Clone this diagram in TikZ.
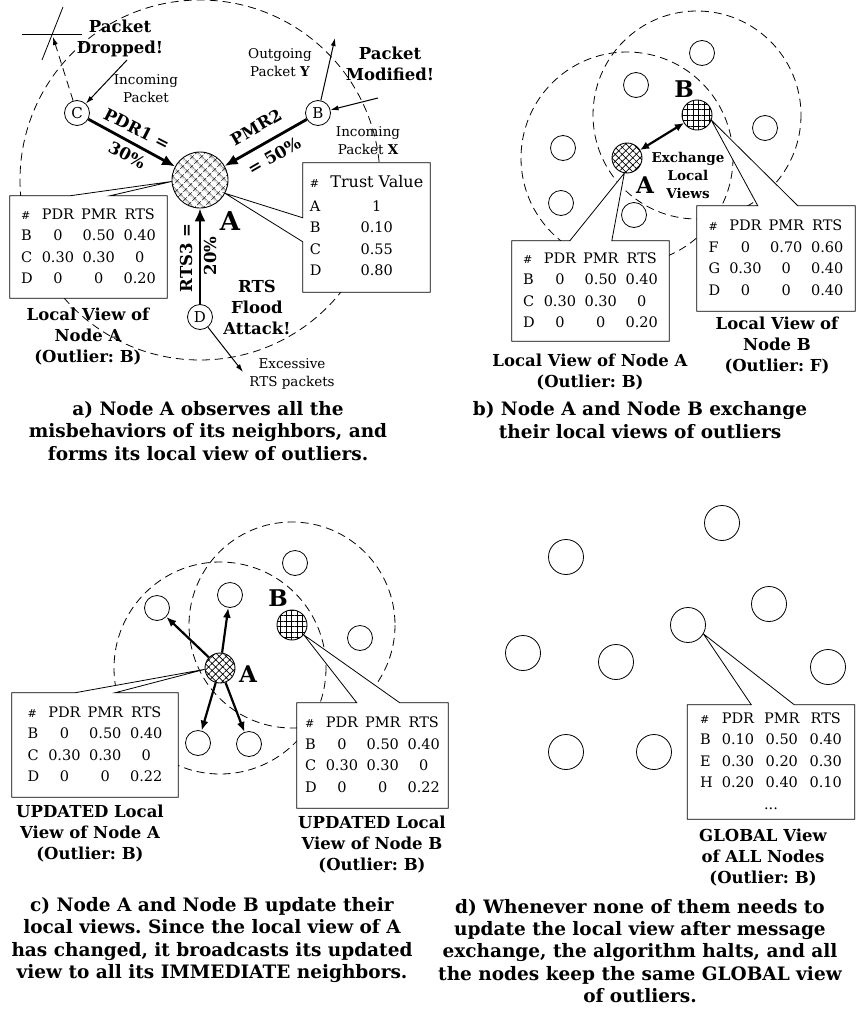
\documentclass[tikz,border=0pt]{standalone}
\usepackage{fontspec}
\setmainfont{DejaVu Serif}
\usetikzlibrary{arrows.meta,patterns.meta}

\pgfdeclarelayer{back}
\pgfdeclarelayer{mid}
\pgfsetlayers{back,mid,main}

\newcommand{\tabfont}{\fontsize{14.5}{21.5}\selectfont}
\newcommand{\hsh}{{\fontsize{11}{11}\selectfont\#}}
\frenchspacing

\begin{document}
\begin{tikzpicture}[
x=1pt, y=-1pt,
every node/.style={inner sep=0pt},
nb/.style={circle, draw, line width=0.8pt, fill=white, minimum size=25pt, font=\fontsize{15}{15}\selectfont},
hubx/.style={circle, draw, line width=0.9pt, pattern={Hatch[angle=45,distance=#1,line width=0.7pt]}},
hubg/.style={circle, draw, line width=0.9pt, pattern={Hatch[angle=0,distance=#1,line width=0.7pt]}},
rng/.style={dash pattern=on 8pt off 5pt, line width=0.8pt},
big/.style={line width=2.8pt, -{Latex[length=13pt,width=11pt]}},
bc/.style={line width=2.2pt, -{Latex[length=10pt,width=8pt]}},
sm/.style={line width=1pt, -{Latex[length=8pt,width=5pt]}},
call/.style={line width=0.8pt, fill=white},
tbl/.style={font=\tabfont},
lab/.style={font=\bfseries\fontsize{16.5}{21}\selectfont, align=center},
captxt/.style={font=\bfseries\fontsize{18.5}{22.3}\selectfont, align=center},
note/.style={font=\fontsize{13.5}{18}\selectfont, align=center},
ltr/.style={font=\bfseries\fontsize{#1}{#1}\selectfont}
]

\useasboundingbox (0,0) rectangle (856,1017);

% a) node A watches its neighbours
\node[hubx=6.5pt, minimum size=56pt] (A) at (200,180)
{};

\node[nb] (C) at (77,113)
{C};

\node[nb] (B) at (318,113)
{B};

\node[nb] (D) at (200,317)
{D};

\node[ltr=26] (Al) at (230,221)
{A};

\draw[big] (C) -- (A);
\draw[big] (B) -- (A);
\draw[big] (D) -- (A);

\node[lab, rotate=-27] (pdr) at (137,129) {PDR1 =};
\node[lab, rotate=-27] (pdrv) at (127,155) {30\%};
\node[lab, rotate=30] (pmr) at (256,127) {PMR2};
\node[lab, rotate=30] (pmrv) at (274,156) {= 50\%};
\node[lab, rotate=90] (rts) at (186,258) {RTS3 =};
\node[lab, rotate=90] (rtsv) at (210,256) {20\%};

\node[lab] (drop) at (120,38) {Packet\\Dropped!};
\node[lab] (modf) at (390,64) {Packet\\Modified!};
\node[lab] (flood) at (257,307) {RTS\\Flood\\Attack!};
\node[note] (inc) at (146,89) {Incoming\\Packet};
\node[note] (outy) at (280,63) {Outgoing\\Packet \textbf{Y}};
\node[note] (inx) at (368,141) {Incoming\\Packet \textbf{X}};
\node[note] (exc) at (292,374) {Excessive\\RTS packets};

\coordinate (lost) at (53,37);
\coordinate (srcC) at (127,60);
\coordinate (dstY) at (335,38);
\coordinate (srcX) at (378,98);
\coordinate (dstD) at (243,372);

\draw[sm, rng] (C) -- (lost);
\draw[line width=0.8pt] (22,34) -- (82,34);
\draw[line width=0.8pt] (63,7) -- (42,60);
\draw[sm] (srcC) -- (C);
\draw[sm] (B) -- (dstY);
\draw[sm] (srcX) -- (B);
\draw[sm] (D) -- (dstD);

\node[tbl, minimum width=157pt, minimum height=102pt] (tA) at (88.5,247)
{\begin{tabular}{@{}l@{\hspace{9pt}}c@{\hspace{7pt}}c@{\hspace{7pt}}c@{}}
\hsh & PDR & PMR & RTS\\
B & 0 & 0.50 & 0.40\\
C & 0.30 & 0.30 & 0\\
D & 0 & 0 & 0.20
\end{tabular}};

\node[tbl, minimum width=127pt, minimum height=129pt] (tT) at (366.5,227.5)
{\begin{tabular}{@{}l@{\hspace{9pt}}c@{}}
\hsh & {\fontsize{16}{16}\selectfont Trust Value}\\[2pt]
A & 1\\
B & 0.10\\
C & 0.55\\
D & 0.80
\end{tabular}};

\node[lab] (vA) at (88,337) {Local View of\\Node A\\(Outlier: B)};

% b) A and B swap views
\node[hubx=5pt, minimum size=30pt] (A2) at (627,158) {};
\node[hubg=5.5pt, minimum size=30pt] (B2) at (697,115) {};
\node[ltr=23] (A2l) at (645,185) {A};
\node[ltr=23] (B2l) at (684,89) {B};

\node[nb] (b1) at (702,53) {};
\node[nb] (b2) at (636,85) {};
\node[nb] (b3) at (765,128) {};
\node[nb] (b4) at (563,148) {};
\node[nb] (b5) at (561,203) {};
\node[nb] (b6) at (634,215) {};

\draw[line width=2.2pt, {Latex[length=9pt,width=8pt]}-{Latex[length=9pt,width=8pt]}] (A2) -- (B2);

\node[font=\bfseries\fontsize{13.5}{18}\selectfont, align=center] (exch) at (688,175) {Exchange\\Local\\Views};

\node[tbl, minimum width=157pt, minimum height=100pt] (tA2) at (590.5,291)
{\begin{tabular}{@{}l@{\hspace{9pt}}c@{\hspace{7pt}}c@{\hspace{7pt}}c@{}}
\hsh & PDR & PMR & RTS\\
B & 0 & 0.50 & 0.40\\
C & 0.30 & 0.30 & 0\\
D & 0 & 0 & 0.20
\end{tabular}};

\node[tbl, minimum width=158pt, minimum height=105pt] (tB2) at (776,258.5)
{\begin{tabular}{@{}l@{\hspace{9pt}}c@{\hspace{7pt}}c@{\hspace{7pt}}c@{}}
\hsh & PDR & PMR & RTS\\
F & 0 & 0.70 & 0.60\\
G & 0.30 & 0 & 0.40\\
D & 0 & 0 & 0.40
\end{tabular}};

\node[lab] (vA2) at (590,372) {Local View of Node A\\(Outlier: B)};
\node[lab] (vB2) at (777,346) {Local View of\\Node B\\(Outlier: F)};

% c) A passes its new view on
\node[hubx=5pt, minimum size=30pt] (A3) at (220,668) {};
\node[hubg=5.5pt, minimum size=30pt] (B3) at (292,625) {};
\node[ltr=23] (A3l) at (248,674) {A};
\node[ltr=23] (B3l) at (278,598) {B};

\node[nb] (c1) at (157,608) {};
\node[nb] (c2) at (230,595) {};
\node[nb] (c3) at (295,563) {};
\node[nb] (c4) at (360,638) {};
\node[nb] (c5) at (198,743) {};
\node[nb] (c6) at (249,744) {};

\draw[bc] (A3) -- (c1);
\draw[bc] (A3) -- (c2);
\draw[bc] (A3) -- (c5);
\draw[bc] (A3) -- (c6);

\node[tbl, minimum width=166pt, minimum height=104pt] (tA3) at (95,745)
{\begin{tabular}{@{}l@{\hspace{9pt}}c@{\hspace{7pt}}c@{\hspace{7pt}}c@{}}
\hsh & PDR & PMR & RTS\\
B & 0 & 0.50 & 0.40\\
C & 0.30 & 0.30 & 0\\
D & 0 & 0 & 0.22
\end{tabular}};

\node[tbl, minimum width=151pt, minimum height=105pt] (tB3) at (372.5,755.5)
{\begin{tabular}{@{}l@{\hspace{9pt}}c@{\hspace{7pt}}c@{\hspace{7pt}}c@{}}
\hsh & PDR & PMR & RTS\\
B & 0 & 0.50 & 0.40\\
C & 0.30 & 0.30 & 0\\
D & 0 & 0 & 0.22
\end{tabular}};

\node[lab] (vA3) at (90,834) {UPDATED Local\\View of Node A\\(Outlier: B)};
\node[lab] (vB3) at (372,845) {UPDATED Local\\View of Node B\\(Outlier: B)};

% d) every node ends with the same view
\node[nb, minimum size=35pt] (d1) at (722,523) {};
\node[nb, minimum size=35pt] (d2) at (566,557) {};
\node[nb, minimum size=35pt] (d3) at (769,604) {};
\node[nb, minimum size=35pt] (d4) at (688,625) {};
\node[nb, minimum size=35pt] (d5) at (523,653) {};
\node[nb, minimum size=35pt] (d6) at (616,662) {};
\node[nb, minimum size=35pt] (d7) at (828,667) {};
\node[nb, minimum size=35pt] (d8) at (566,752) {};
\node[nb, minimum size=35pt] (d9) at (654,752) {};

\node[tbl, minimum width=167pt, minimum height=114pt] (tD) at (771,762)
{\begin{tabular}{@{}l@{\hspace{9pt}}c@{\hspace{10pt}}c@{\hspace{10pt}}c@{}}
\hsh & PDR & PMR & RTS\\
B & 0.10 & 0.50 & 0.40\\
E & 0.30 & 0.20 & 0.30\\
H & 0.20 & 0.40 & 0.10\\
\multicolumn{4}{c}{...}
\end{tabular}};

\node[lab] (vD) at (763,858) {GLOBAL View\\of ALL Nodes\\(Outlier: B)};

% captions
\node[captxt] (capa) at (208,431) {a) Node A observes all the\\misbehaviors of its neighbors, and\\forms its local view of outliers.};
\node[captxt] (capb) at (640,420) {b) Node A and Node B exchange\\their local views of outliers};
\node[captxt] (capc) at (212,940) {c) Node A and Node B update their\\local views. Since the local view of A\\has changed, it broadcasts its updated\\view to all its IMMEDIATE neighbors.};
\node[captxt] (capd) at (640,951) {d) Whenever none of them needs to\\update the local view after message\\exchange, the algorithm halts, and all\\the nodes keep the same GLOBAL view\\of outliers.};

% callouts
\begin{pgfonlayer}{mid}
\draw[call] (tA.north west) -- ([xshift=60pt]tA.north west) -- (A.183) -- ([xshift=100pt]tA.north west) -- (tA.north east) -- (tA.south east) -- (tA.south west) -- cycle;
\draw[call] (tT.north west) -- (tT.north east) -- (tT.south east) -- (tT.south west) -- ([yshift=-79pt]tT.north west) -- (A.-28) -- ([yshift=-55pt]tT.north west) -- cycle;
\draw[call] (tA2.north west) -- ([xshift=58pt]tA2.north west) -- (A2.-100) -- ([xshift=100pt]tA2.north west) -- (tA2.north east) -- (tA2.south east) -- (tA2.south west) -- cycle;
\draw[call] (tB2.north west) -- ([xshift=61pt]tB2.north west) -- (B2.-20) -- ([xshift=101pt]tB2.north west) -- (tB2.north east) -- (tB2.south east) -- (tB2.south west) -- cycle;
\draw[call] (tA3.north west) -- ([xshift=63pt]tA3.north west) -- (A3.185) -- ([xshift=103pt]tA3.north west) -- (tA3.north east) -- (tA3.south east) -- (tA3.south west) -- cycle;
\draw[call] (tB3.north west) -- ([xshift=60pt]tB3.north west) -- (B3.-40) -- ([xshift=103pt]tB3.north west) -- (tB3.north east) -- (tB3.south east) -- (tB3.south west) -- cycle;
\draw[call] (tD.north west) -- ([xshift=64pt]tD.north west) -- (d4.-30) -- ([xshift=107pt]tD.north west) -- (tD.north east) -- (tD.south east) -- (tD.south west) -- cycle;
\end{pgfonlayer}

% radio ranges
\begin{pgfonlayer}{back}
\draw[rng] (A) circle[radius=180];
\draw[rng] (A2) circle[radius=106];
\draw[rng] (B2) circle[radius=104];
\draw[rng] (A3) circle[radius=106];
\draw[rng] (B3) circle[radius=103];
\end{pgfonlayer}

\end{tikzpicture}
\end{document}
